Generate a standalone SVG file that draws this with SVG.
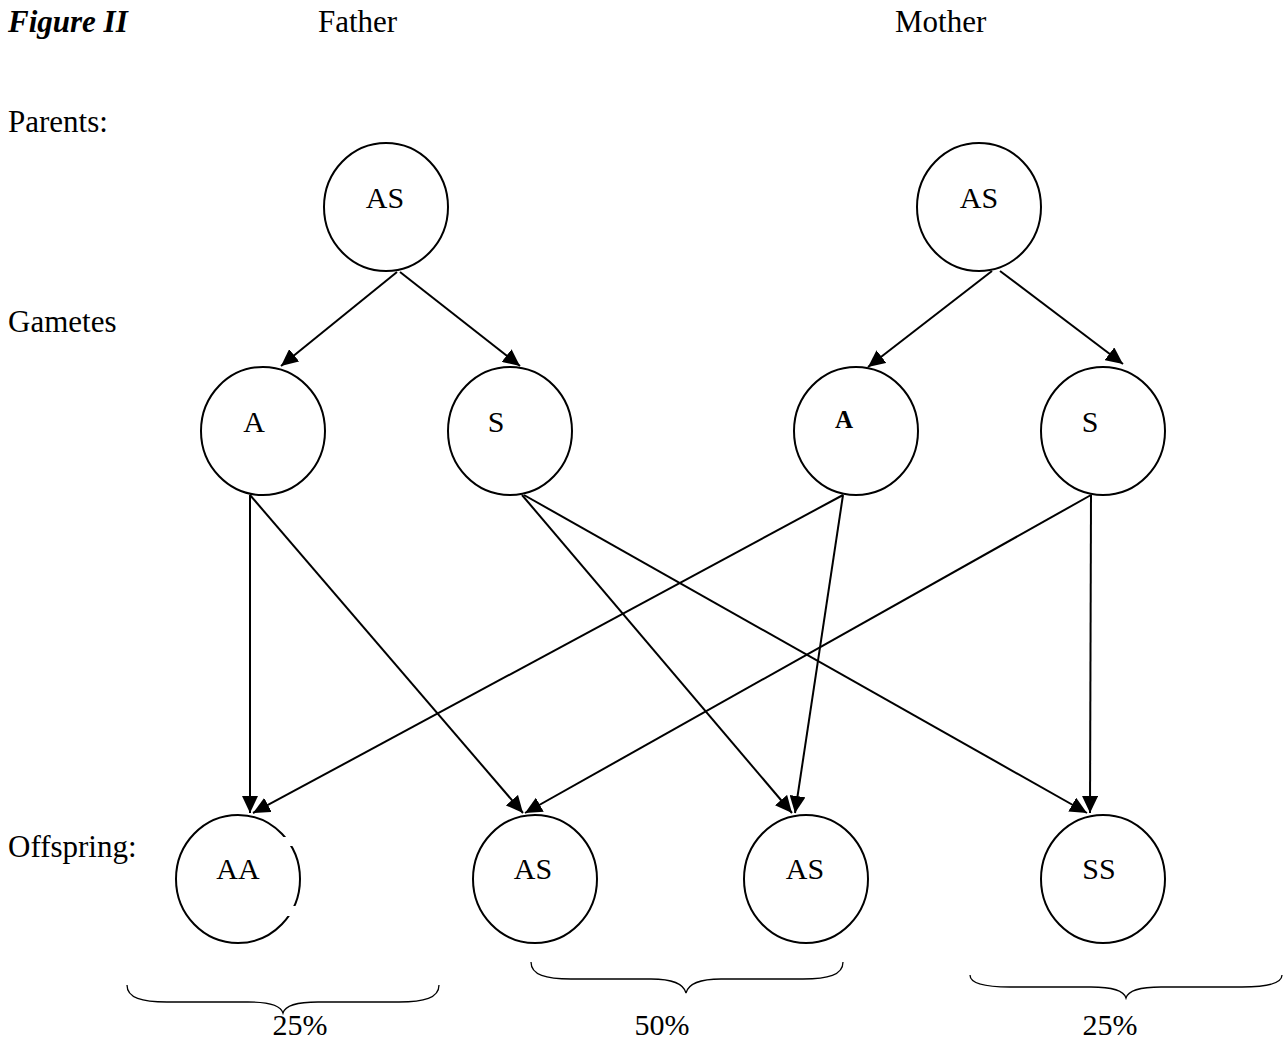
<svg xmlns="http://www.w3.org/2000/svg" width="1287" height="1044" viewBox="0 0 1287 1044">
<style>
text{font-family:"Liberation Serif","Times New Roman",serif;font-size:30px;fill:#000}
.lbl{font-size:31px}
.c{text-anchor:middle}
.node ellipse{fill:none;stroke:#000;stroke-width:2}
.edge line{stroke:#000;stroke-width:2;marker-end:url(#ah)}
.brace path{fill:none;stroke:#000;stroke-width:1.3}
</style>
<defs>
<marker id="ah" markerUnits="userSpaceOnUse" viewBox="0 0 17 16" refX="17" refY="8" markerWidth="17" markerHeight="16" orient="auto">
<path d="M0,0 L17,8 L0,16 z" fill="#000"/>
</marker>
</defs>
<rect width="1287" height="1044" fill="#fff"/>
<g id="labels">
<text x="8" y="32" class="lbl" style="font-weight:bold;font-style:italic">Figure II</text>
<text x="318" y="32" class="lbl">Father</text>
<text x="895" y="32" class="lbl">Mother</text>
<text x="8" y="132" class="lbl">Parents:</text>
<text x="8" y="332" class="lbl">Gametes</text>
<text x="8" y="857" class="lbl">Offspring:</text>
</g>
<g id="edges" class="edge">
<line x1="397" y1="272" x2="281" y2="366"/>
<line x1="400" y1="272" x2="520" y2="366"/>
<line x1="992" y1="271" x2="868" y2="367"/>
<line x1="1000" y1="271" x2="1123" y2="364"/>
<line x1="250" y1="495" x2="250" y2="813"/>
<line x1="250" y1="495" x2="523" y2="813"/>
<line x1="522" y1="495" x2="792" y2="813"/>
<line x1="524" y1="495" x2="1087" y2="813"/>
<line x1="843" y1="495" x2="253" y2="813"/>
<line x1="843" y1="495" x2="795" y2="813"/>
<line x1="1091" y1="495" x2="525" y2="813"/>
<line x1="1091" y1="495" x2="1090" y2="813"/>
</g>
<g id="father" class="node"><ellipse cx="386" cy="207" rx="62" ry="64"/><text x="385" y="208" class="c">AS</text></g>
<g id="mother" class="node"><ellipse cx="979" cy="207" rx="62" ry="64"/><text x="979" y="208" class="c">AS</text></g>
<g id="fA" class="node"><ellipse cx="263" cy="431" rx="62" ry="64"/><text x="254" y="432" class="c">A</text></g>
<g id="fS" class="node"><ellipse cx="510" cy="431" rx="62" ry="64"/><text x="496" y="432" class="c">S</text></g>
<g id="mA" class="node"><ellipse cx="856" cy="431" rx="62" ry="64"/><text x="844" y="428" class="c" style="font-weight:bold;font-size:25px">A</text></g>
<g id="mS" class="node"><ellipse cx="1103" cy="431" rx="62" ry="64"/><text x="1090" y="432" class="c">S</text></g>
<g id="oAA" class="node"><ellipse cx="238" cy="879" rx="62" ry="64"/><rect x="283" y="837" width="14" height="9" fill="#fff"/><rect x="284" y="906" width="14" height="10" fill="#fff"/><text x="238" y="879" class="c">AA</text></g>
<g id="oAS1" class="node"><ellipse cx="535" cy="879" rx="62" ry="64"/><text x="533" y="879" class="c">AS</text></g>
<g id="oAS2" class="node"><ellipse cx="806" cy="879" rx="62" ry="64"/><text x="805" y="879" class="c">AS</text></g>
<g id="oSS" class="node"><ellipse cx="1103" cy="879" rx="62" ry="64"/><text x="1099" y="879" class="c">SS</text></g>
<g id="braces" class="brace">
<path d="M127,985 C127,998 142,1002 167,1002 L248,1002 C271,1002 281,1006 283,1013 C285,1006 295,1002 318,1002 L399,1002 C424,1002 439,998 439,985"/>
<path d="M531,962 C531,975 546,979 571,979 L651,979 C674,979 684,985 686,993 C688,985 698,979 721,979 L803,979 C828,979 843,975 843,962"/>
<path d="M970,975 C970,983 985,987 1010,987 L1091,987 C1114,987 1124,991 1126,998 C1128,991 1138,987 1161,987 L1242,987 C1267,987 1282,983 1282,975"/>
</g>
<g id="percents">
<text x="300" y="1035" class="c">25%</text>
<text x="662" y="1035" class="c">50%</text>
<text x="1110" y="1035" class="c">25%</text>
</g>
</svg>
